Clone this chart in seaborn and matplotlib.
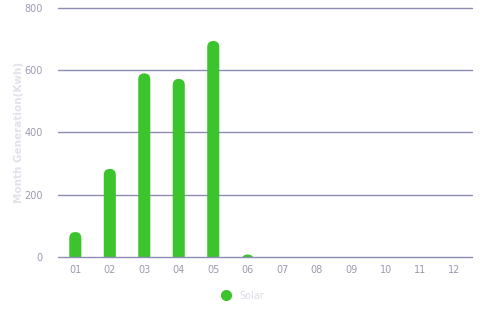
import matplotlib
matplotlib.use("Agg")
import matplotlib.pyplot as plt
import seaborn as sns
import pandas as pd
from matplotlib.patches import FancyBboxPatch
from matplotlib.lines import Line2D

months = ["01", "02", "03", "04", "05", "06", "07", "08", "09", "10", "11", "12"]
solar = [80, 283, 590, 572, 694, 8, 0, 0, 0, 0, 0, 0]
yticks = [0, 200, 400, 600, 800]

sns.set_theme(style="white")
plt.rcParams['font.family'] = ['DejaVu Sans']

df = pd.DataFrame({"month": months, "value": solar})

fig = plt.figure(figsize=(4.8, 3.2), dpi=100)
ax = fig.add_axes([0.121, 0.197, 0.862, 0.778])

green = "#3cc42c"
sns.barplot(data=df, x="month", y="value", color=green, width=0.35, ax=ax,
            saturation=1, zorder=3)

ax.set_ylim(0, 800)
ax.set_xlim(-0.5, 11.5)
fig.canvas.draw()

# replace bars with top-rounded ones
bbox = ax.get_window_extent()
px_per_x = bbox.width / 12.0
px_per_y = bbox.height / 800.0
for p in list(ax.patches):
    x0, y0 = p.get_x(), p.get_y()
    w, h = p.get_width(), p.get_height()
    p.set_visible(False)
    if h <= 0:
        continue
    r_px = w * px_per_x / 2.0
    r_x = r_px / px_per_x
    r_y = r_px / px_per_y
    aspect = px_per_x / px_per_y
    fb = FancyBboxPatch((x0, y0 - r_y), w, h + r_y,
                        boxstyle=f"round,pad=0,rounding_size={r_x}",
                        mutation_aspect=aspect, facecolor=green,
                        edgecolor="none", zorder=3, clip_on=True)
    ax.add_patch(fb)

ax.set_yticks(yticks)
for y in yticks:
    ax.axhline(y, color="#8e8bb5", lw=1.0, zorder=4 if y == 0 else 1, clip_on=False)

for s in ax.spines.values():
    s.set_visible(False)

ax.tick_params(axis="both", length=0, labelsize=7, colors="#9c9bb0")
ax.tick_params(axis="y", pad=11)
ax.tick_params(axis="x", pad=6)
ax.set_xlabel("")
ax.set_ylabel("Month Generation(Kwh)", fontsize=7.5, fontweight="bold",
              color="#e2e2ec", labelpad=0)

handle = Line2D([], [], marker="o", linestyle="none", markersize=7,
                markerfacecolor=green, markeredgecolor=green)
leg = ax.legend([handle], ["Solar"], loc="center", bbox_to_anchor=(0.44, -0.155),
                frameon=False, fontsize=7, handletextpad=0.3, borderaxespad=0)
for t in leg.get_texts():
    t.set_color("#dcdce6")

fig.savefig("out.png", dpi=100)
